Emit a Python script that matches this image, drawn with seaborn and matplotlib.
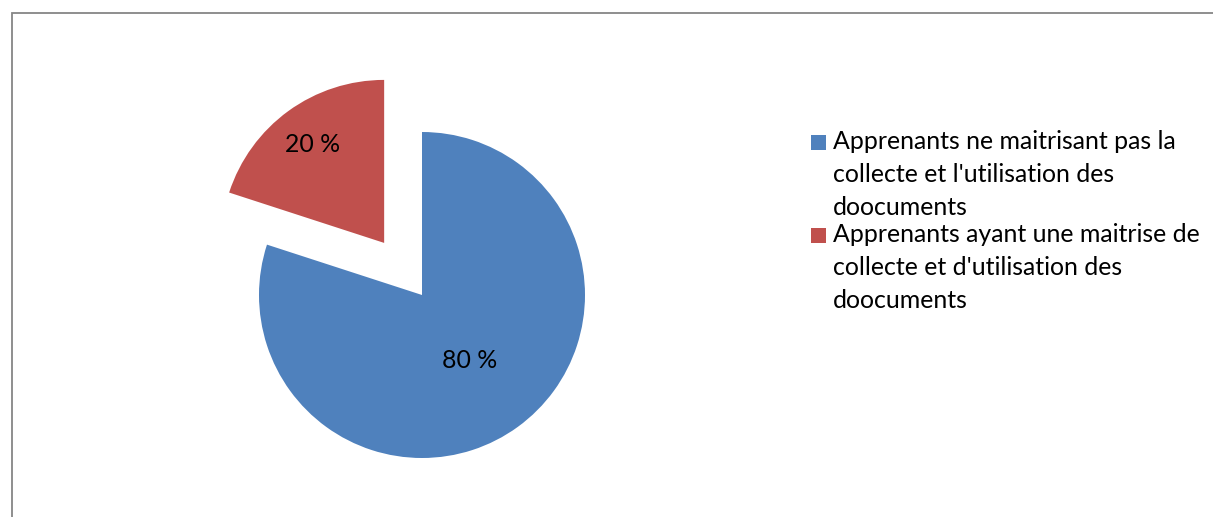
import numpy as np
import matplotlib
matplotlib.use("Agg")
import matplotlib.pyplot as plt
from matplotlib.patches import Rectangle
import seaborn as sns

# ---- data ----
categories = [
    "Apprenants ne maitrisant pas la\ncollecte et l'utilisation des\ndoocuments",
    "Apprenants ayant une maitrise de\ncollecte et d'utilisation des\ndoocuments",
]
values = [80, 20]
pct_labels = ["80 %", "20 %"]
colors = ["#4F81BD", "#C0504D"]
explode = [0.0, 0.395]
label_dist = [0.5, 0.75]

sns.set_theme(style="white")
plt.rcParams["font.family"] = ["Lato", "DejaVu Sans"]

W, H = 1213, 517
fig = plt.figure(figsize=(W / 100, H / 100), dpi=100)
fig.patch.set_facecolor("white")

# axes covering whole figure; pie of radius 1 centred at pixel (422, 295), r = 163 px
R = 163.0
cx, cy = 422.0, 295.0
ax = fig.add_axes([0, 0, 1, 1])
wedges, _ = ax.pie(values, colors=colors, explode=explode, startangle=90,
                   counterclock=False, radius=1.0,
                   wedgeprops=dict(linewidth=0, edgecolor="none"))
ax.set_aspect("auto")
ax.set_xlim(-cx / R, (W - cx) / R)
ax.set_ylim(-(H - cy) / R, cy / R)
ax.axis("off")

FS = 17.9
for w, lab, d in zip(wedges, pct_labels, label_dist):
    th = np.deg2rad((w.theta1 + w.theta2) / 2)
    x0, y0 = w.center
    ax.text(x0 + d * w.r * np.cos(th), y0 + d * w.r * np.sin(th), lab,
            ha="center", va="center", fontsize=FS, color="black")

# ---- legend (manual, first-line aligned like the source) ----
def px(x, y):
    return x / W, 1 - y / H

first_baselines = [149, 242]
line_step = 33
for col, lab, yb in zip(colors, categories, first_baselines):
    fig.add_artist(Rectangle(px(811, yb + 1), 15 / W, 15 / H, transform=fig.transFigure,
                             facecolor=col, edgecolor="none"))
    for i, line in enumerate(lab.split("\n")):
        tx, ty = px(833, yb + i * line_step)
        fig.text(tx, ty, line, ha="left", va="baseline", fontsize=FS, color="black")

# ---- chart frame (top & left edges visible) ----
fig.add_artist(Rectangle(px(11.5, 600), 2.0, (600 - 12.5) / H, transform=fig.transFigure,
                         facecolor="none", edgecolor="#868686", linewidth=1.3))

fig.savefig("out.png", dpi=100, facecolor="white")
